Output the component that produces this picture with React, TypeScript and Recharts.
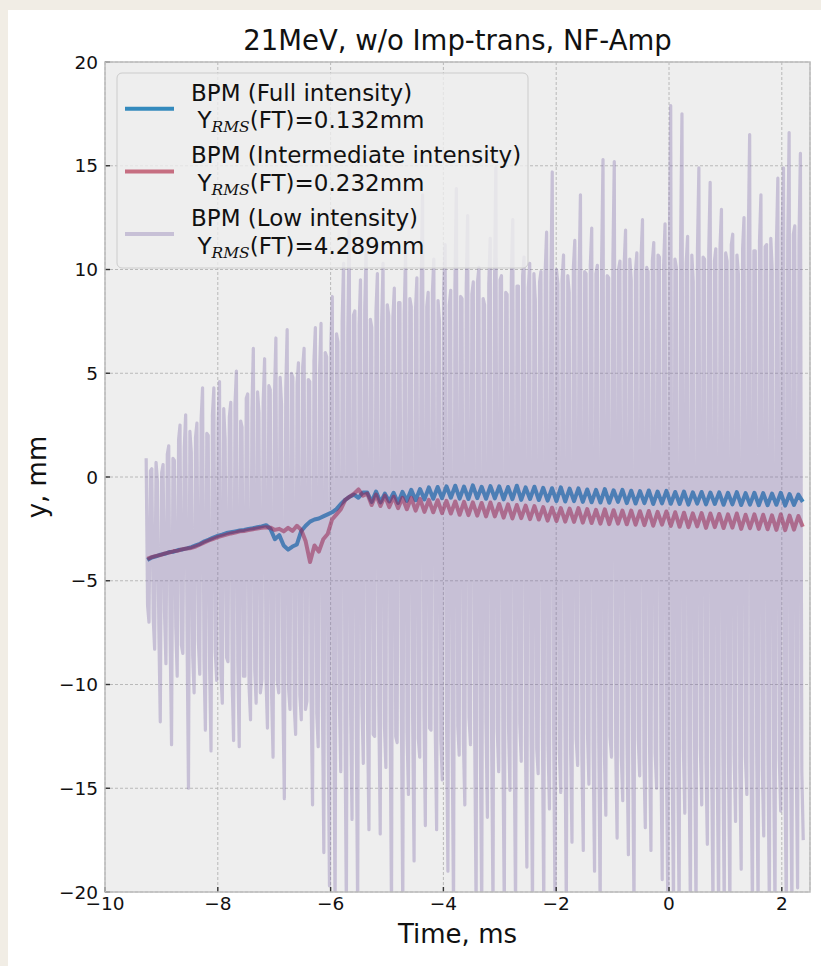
import { LineChart, Line, XAxis, YAxis, CartesianGrid } from "recharts";

// sampling of the BPM traces (ms)
const FULL_T0 = -9.25;
const FULL_DT = 0.078;
const LOW_T0 = -9.27;
const LOW_DT = 0.025;

const fullIntensity = [
  -4.0, -3.88, -3.82, -3.74, -3.7, -3.62, -3.6, -3.52, -3.49, -3.44,
  -3.38, -3.3, -3.22, -3.1, -3.02, -2.92, -2.84, -2.78, -2.7, -2.66,
  -2.62, -2.58, -2.55, -2.5, -2.47, -2.42, -2.38, -2.32, -2.5, -3.0,
  -2.8, -3.3, -3.5, -3.35, -3.25, -2.6, -2.35, -2.15, -2.05, -2.0,
  -1.9, -1.8, -1.7, -1.55, -1.3, -1.1, -0.95, -0.85, -1.0, -0.75,
  -0.75, -1.2, -0.7, -1.22, -0.8, -1.18, -0.76, -1.25, -0.72, -1.15,
  -0.62, -1.12, -0.58, -1.08, -0.5, -1.05, -0.48, -1.02, -0.45, -1.0,
  -0.42, -1.04, -0.46, -1.06, -0.4, -1.02, -0.47, -1.05, -0.44, -1.03,
  -0.45, -1.08, -0.48, -1.07, -0.42, -1.1, -0.5, -1.06, -0.47, -1.11,
  -0.52, -1.14, -0.54, -1.16, -0.5, -1.18, -0.56, -1.16, -0.55, -1.2,
  -0.6, -1.22, -0.62, -1.23, -0.58, -1.24, -0.64, -1.2, -0.62, -1.26,
  -0.66, -1.28, -0.68, -1.26, -0.65, -1.3, -0.7, -1.27, -0.67, -1.29,
  -0.72, -1.3, -0.7, -1.33, -0.74, -1.28, -0.72, -1.32, -0.75, -1.3,
  -0.74, -1.34, -0.76, -1.32, -0.73, -1.35, -0.78, -1.33, -0.76, -1.36,
  -0.78, -1.36, -0.8, -1.34, -0.76, -1.38, -0.82, -1.35, -0.85, -1.2,
];

const intermediateIntensity = [
  -3.95, -3.86, -3.8, -3.76, -3.68, -3.64, -3.57, -3.55, -3.48, -3.45,
  -3.42, -3.35, -3.25, -3.15, -3.06, -2.98, -2.9, -2.84, -2.78, -2.72,
  -2.68, -2.62, -2.6, -2.56, -2.52, -2.48, -2.45, -2.42, -2.44, -2.55,
  -2.5, -2.62, -2.45, -2.6, -2.35, -2.55, -3.1, -4.1, -3.3, -3.6,
  -3.0, -2.75, -2.05, -1.8, -1.55, -1.1, -0.95, -0.8, -0.6, -0.9,
  -0.8, -1.35, -0.85, -1.4, -0.9, -1.45, -0.95, -1.5, -1.0, -1.55,
  -1.0, -1.62, -1.05, -1.68, -1.1, -1.7, -1.12, -1.74, -1.15, -1.76,
  -1.18, -1.82, -1.2, -1.84, -1.22, -1.86, -1.25, -1.9, -1.23, -1.9,
  -1.3, -1.96, -1.32, -2.0, -1.35, -1.98, -1.38, -2.03, -1.4, -2.05,
  -1.45, -2.1, -1.48, -2.12, -1.5, -2.15, -1.52, -2.16, -1.5, -2.2,
  -1.55, -2.22, -1.58, -2.25, -1.56, -2.27, -1.6, -2.25, -1.62, -2.28,
  -1.62, -2.3, -1.65, -2.32, -1.64, -2.35, -1.68, -2.3, -1.66, -2.36,
  -1.7, -2.4, -1.72, -2.42, -1.75, -2.38, -1.74, -2.45, -1.76, -2.42,
  -1.78, -2.46, -1.8, -2.44, -1.76, -2.5, -1.82, -2.47, -1.8, -2.5,
  -1.82, -2.52, -1.85, -2.55, -1.8, -2.56, -1.86, -2.54, -1.88, -2.4,
];

const lowIntensity = [
  0.9, -6.2, -7.0, 0.3, 0.4, -6.8, -8.3, 0.7, -0.2, -7.4,
  -11.8, 0.2, 0.6, -6.5, -9.0, 1.1, 1.5, -7.8, -12.9, 0.9,
  0.8, -7.2, -9.6, 1.8, 2.5, -8.1, -8.5, 1.4, 3.0, -7.6,
  -15.0, 2.2, 1.2, -8.6, -10.4, 1.9, 2.6, -7.9, -9.5, 2.8,
  4.3, -8.8, -12.2, 2.1, 2.0, -9.2, -13.2, 3.0, 4.3, -8.4,
  -9.8, 2.6, 4.6, -9.5, -10.9, 3.3, 1.8, -8.7, -8.9, 2.9,
  3.6, -9.9, -12.7, 3.5, 5.1, -9.0, -13.0, 2.7, 2.4, -9.6,
  -9.6, 3.8, 4.0, -10.1, -11.7, 3.2, 6.2, -9.3, -10.9, 4.1,
  3.1, -10.4, -9.8, 3.6, 5.7, -9.7, -12.1, 4.4, 4.2, -10.6,
  -13.5, 3.9, 6.7, -9.8, -10.4, 4.8, 3.5, -10.9, -15.5, 4.2,
  7.1, -10.2, -11.2, 5.0, 4.8, -11.0, -12.4, 4.5, 5.5, -10.5,
  -11.7, 5.3, 6.2, -11.2, -10.8, 4.7, 4.6, -10.7, -15.8, 5.6,
  7.2, -11.4, -13.0, 5.1, 7.4, -11.0, -18.1, 6.0, 5.8, -11.8,
  -19.7, 6.4, 8.7, -11.5, -21.0, 6.9, 6.5, -10.8, -14.2, 7.5,
  10.3, -12.0, -21.0, 7.0, 12.4, -11.3, -16.5, 7.8, 8.0, -12.2,
  -21.0, 7.3, 9.5, -10.9, -13.8, 8.1, 11.0, -11.8, -17.0, 7.6,
  7.2, -12.4, -12.5, 8.0, 9.8, -11.1, -17.2, 7.4, 10.3, -12.0,
  -14.0, 8.3, 7.8, -11.6, -21.0, 7.7, 9.1, -12.5, -12.8, 8.4,
  8.4, -11.2, -21.0, 7.9, 10.8, -12.3, -15.3, 8.6, 8.2, -11.7,
  -18.5, 8.0, 9.6, -12.6, -13.5, 8.8, 13.6, -11.4, -16.8, 8.2,
  8.9, -12.1, -12.2, 8.9, 10.5, -11.9, -17.0, 8.5, 7.5, -12.7,
  -14.6, 9.0, 11.2, -11.5, -19.0, 8.3, 9.0, -12.4, -21.0, 9.2,
  13.9, -12.0, -13.4, 8.7, 8.6, -12.8, -15.8, 9.1, 12.6, -11.6,
  -12.9, 8.8, 9.4, -12.3, -21.0, 9.4, 10.1, -12.9, -21.0, 8.6,
  8.3, -11.8, -16.4, 9.3, 11.5, -12.6, -21.0, 9.0, 14.9, -12.2,
  -14.2, 9.5, 9.7, -13.0, -21.0, 8.9, 8.8, -12.1, -15.1, 9.6,
  12.4, -12.7, -21.0, 9.2, 9.2, -11.9, -13.7, 9.7, 10.6, -12.8,
  -18.8, 9.1, 10.3, -12.4, -21.0, 9.8, 8.5, -13.1, -14.3, 9.4,
  9.9, -12.0, -21.0, 9.9, 11.8, -12.9, -16.0, 9.3, 14.7, -12.5,
  -21.0, 10.0, 9.3, -13.2, -15.2, 9.5, 10.7, -12.2, -21.0, 9.7,
  8.9, -13.0, -17.6, 10.1, 11.4, -12.6, -13.9, 9.6, 13.6, -13.3,
  -18.0, 9.9, 9.8, -12.4, -14.8, 10.2, 12.0, -13.1, -19.0, 9.8,
  10.2, -12.7, -21.0, 10.3, 15.3, -13.4, -16.3, 9.7, 9.6, -12.5,
  -13.5, 10.4, 15.2, -13.0, -17.4, 10.0, 10.4, -13.5, -15.6, 10.2,
  11.9, -12.8, -18.2, 10.5, 9.5, -13.2, -21.0, 9.9, 10.8, -12.6,
  -14.4, 10.6, 12.4, -13.6, -16.9, 10.1, 9.9, -12.9, -18.0, 10.4,
  11.3, -13.3, -15.0, 10.7, 10.6, -13.0, -19.4, 10.2, 12.2, -13.7,
  -21.0, 10.8, 17.9, -13.2, -21.0, 10.5, 10.1, -13.8, -21.0, 10.9,
  17.5, -13.1, -16.2, 10.3, 11.6, -13.6, -21.0, 10.7, 9.4, -13.4,
  -21.0, 11.0, 14.9, -13.0, -15.8, 10.6, 10.5, -13.7, -17.7, 10.9,
  14.2, -13.3, -21.0, 10.4, 11.0, -13.9, -21.0, 11.1, 12.9, -13.2,
  -21.0, 10.8, 10.4, -13.6, -21.0, 11.2, 11.7, -13.4, -16.6, 10.7,
  9.8, -14.0, -18.9, 11.0, 12.5, -13.5, -15.3, 11.3, 16.5, -13.8,
  -21.0, 10.9, 10.9, -13.3, -21.0, 11.4, 13.6, -14.1, -17.3, 11.1,
  11.2, -13.6, -21.0, 11.5, 10.0, -13.9, -21.0, 11.2, 14.4, -13.5,
  -16.1, 11.6, 14.9, -14.0, -21.0, 11.3, 16.6, -13.7, -21.0, 11.7,
  12.1, -13.4, -19.8, 11.4, 15.6, -14.2, -17.5,
];

const xTicks = [-10, -8, -6, -4, -2, 0, 2];
const yTicks = [-20, -15, -10, -5, 0, 5, 10, 15, 20];

const seriesNames = ["BPM (Full intensity)", "BPM (Intermediate intensity)", "BPM (Low intensity)"];
const rmsValues = ["0.132", "0.232", "4.289"];
const seriesColors = ["#348ABD", "#A60628", "#7A68A6"];
const seriesAlphas = [1, 0.55, 0.34];

const fullData = fullIntensity.map((y, i) => ({ t: FULL_T0 + i * FULL_DT, y }));
const intermediateData = intermediateIntensity.map((y, i) => ({ t: FULL_T0 + i * FULL_DT, y }));
const lowData = lowIntensity.map((y, i) => ({ t: LOW_T0 + i * LOW_DT, y }));

const W = 821;
const H = 966;
const PLOT = { left: 105, top: 62, right: 810, bottom: 892 };
const FONT = "'DejaVu Sans', sans-serif";

const fmt = (v: number) => (v < 0 ? "\u2212" + Math.abs(v) : String(v));

const XTick = (props: any) => {
  const { x, y, payload } = props;
  return (
    <g>
      <line x1={x} x2={x} y1={y} y2={y - 5} stroke="#333" strokeWidth={1.4} />
      <text x={x} y={y + 18} textAnchor="middle" fontSize={18.5} fontFamily={FONT} fill="#111">
        {fmt(payload.value)}
      </text>
    </g>
  );
};

const YTick = (props: any) => {
  const { x, y, payload } = props;
  return (
    <g>
      <line x1={x} x2={x + 5} y1={y} y2={y} stroke="#333" strokeWidth={1.4} />
      <text x={x - 7} y={y + 6.5} textAnchor="end" fontSize={18.5} fontFamily={FONT} fill="#111">
        {fmt(payload.value)}
      </text>
    </g>
  );
};

function LegendBox() {
  const rows = [0, 1, 2];
  return (
    <g>
      <rect x={117} y={73} width={411} height={195} rx={5} fill="#eeeeee" fillOpacity={0.8} stroke="#cccccc" strokeWidth={1} />
      {rows.map((i) => {
        const dy = i * 62.7;
        return (
          <g key={i}>
            <line
              x1={125}
              x2={174}
              y1={108.7 + dy}
              y2={108.7 + dy}
              stroke={seriesColors[i]}
              strokeOpacity={seriesAlphas[i]}
              strokeWidth={4}
            />
            <text x={191} y={100.7 + dy} fontSize={23} fontFamily={FONT} fill="#111">
              {seriesNames[i]}
            </text>
            <text x={197.5} y={128.3 + dy} fontSize={23} fontFamily={FONT} fill="#111">
              Y
              <tspan fontFamily="'DejaVu Serif', serif" fontStyle="italic" fontSize={15.5} dy={4}>
                RMS
              </tspan>
              <tspan dy={-4}>{`(FT)=${rmsValues[i]}mm`}</tspan>
            </text>
          </g>
        );
      })}
    </g>
  );
}

export default function App() {
  return (
    <div style={{ position: "relative", width: W, height: H, background: "#f1ede5", overflow: "hidden" }}>
      <style>{`body{margin:0;}`}</style>
      <div style={{ position: "absolute", left: 8, top: 10, width: W - 8, height: H - 10, background: "#ffffff" }} />
      <div style={{ position: "absolute", left: 0, top: 0 }}>
        <LineChart
          width={W}
          height={H}
          margin={{ top: PLOT.top, right: W - PLOT.right, bottom: 44, left: 45 }}
        >
          <CartesianGrid fill="#eeeeee" stroke="#b2b2b2" strokeDasharray="3 2" strokeWidth={0.9} />
          <XAxis
            dataKey="t"
            type="number"
            domain={[-10, 2.5]}
            ticks={xTicks}
            interval={0}
            allowDataOverflow
            height={30}
            tickSize={0}
            tickMargin={0}
            tickLine={false}
            axisLine={false}
            tick={<XTick />}
          />
          <YAxis
            type="number"
            domain={[-20, 20]}
            ticks={yTicks}
            interval={0}
            allowDataOverflow
            width={60}
            tickSize={0}
            tickMargin={0}
            tickLine={false}
            axisLine={false}
            tick={<YTick />}
          />
          <Line
            data={fullData}
            dataKey="y"
            type="linear"
            stroke={seriesColors[0]}
            strokeOpacity={seriesAlphas[0]}
            strokeWidth={4}
            strokeLinejoin="round"
            dot={false}
            activeDot={false}
            isAnimationActive={false}
          />
          <Line
            data={intermediateData}
            dataKey="y"
            type="linear"
            stroke={seriesColors[1]}
            strokeOpacity={seriesAlphas[1]}
            strokeWidth={4}
            strokeLinejoin="round"
            dot={false}
            activeDot={false}
            isAnimationActive={false}
          />
          <Line
            data={lowData}
            dataKey="y"
            type="linear"
            stroke={seriesColors[2]}
            strokeOpacity={seriesAlphas[2]}
            strokeWidth={3.2}
            strokeLinejoin="round"
            dot={false}
            activeDot={false}
            isAnimationActive={false}
          />
        </LineChart>
      </div>
      <svg width={W} height={H} style={{ position: "absolute", left: 0, top: 0, pointerEvents: "none" }}>
        <rect
          x={PLOT.left}
          y={PLOT.top}
          width={PLOT.right - PLOT.left}
          height={PLOT.bottom - PLOT.top}
          fill="none"
          stroke="#bcbcbc"
          strokeWidth={1.5}
        />
        <LegendBox />
        <text x={(PLOT.left + PLOT.right) / 2} y={50} textAnchor="middle" fontSize={27.5} fontFamily={FONT} fill="#111">
          21MeV, w/o Imp-trans, NF-Amp
        </text>
        <text x={(PLOT.left + PLOT.right) / 2} y={943} textAnchor="middle" fontSize={26} fontFamily={FONT} fill="#111">
          Time, ms
        </text>
        <text
          x={46}
          y={(PLOT.top + PLOT.bottom) / 2}
          transform={`rotate(-90 46 ${(PLOT.top + PLOT.bottom) / 2})`}
          textAnchor="middle"
          fontSize={26}
          fontFamily={FONT}
          fill="#111"
        >
          y, mm
        </text>
      </svg>
    </div>
  );
}
